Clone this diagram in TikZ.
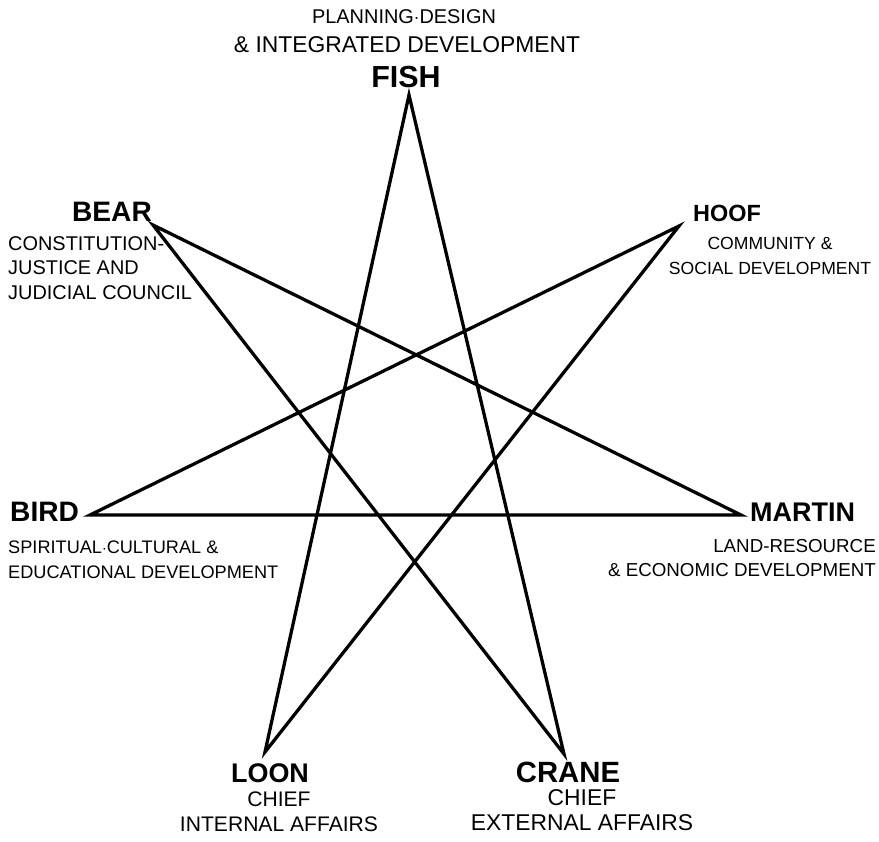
\documentclass[tikz,border=0pt]{standalone}
\usepackage{fontspec}
\setmainfont{Liberation Sans}

\tikzset{
  clan/.style={font=\bfseries\fontsize{#1}{24}\selectfont, inner sep=0pt},
  clan/.default=23,
  duty/.style={font=\fontsize{#1}{21}\selectfont, inner sep=0pt},
  duty/.default=16,
  starline/.style={line width=2.8pt, line join=miter}
}

\begin{document}
\begin{tikzpicture}[x=0.3mm,y=-0.3mm]
\useasboundingbox (0,0) rectangle (879,841);

% Seven points of the star
\coordinate (fish) at (409,95);
\coordinate (hoof) at (679,226);
\coordinate (martin) at (741,515);
\coordinate (crane) at (564,754);
\coordinate (loon) at (265,752);
\coordinate (bird) at (90,515);
\coordinate (bear) at (153,225);

% Star: every point joined to the third one along
\draw[starline] (fish) -- (crane) -- (bear) -- (martin) -- (bird) -- (hoof) -- (loon) -- cycle;

% Fish, top
\node[duty=17] (fishnote) at (404,17) {PLANNING$\cdot$DESIGN};
\node[duty=19.5] (fishnote2) at (407,45) {\& INTEGRATED DEVELOPMENT};
\node[clan=26] (fishname) at (406,77) {FISH};

% Bear, upper left
\node[clan=24] (bearname) at (112,212) {BEAR};
\node[duty=17, align=left, anchor=west] (bearnote) at (8,268) {CONSTITUTION-\\JUSTICE AND\\JUDICIAL COUNCIL};

% Hoof, upper right
\node[clan=20] (hoofname) at (727,213) {HOOF};
\node[duty=15, align=center] (hoofnote) at (770,256) {COMMUNITY \&\\SOCIAL DEVELOPMENT};

% Bird, left
\node[clan=24, anchor=west] (birdname) at (10,512) {BIRD};
\node[duty=15.5, align=left, anchor=west] (birdnote) at (8,560) {SPIRITUAL$\cdot$CULTURAL \&\\EDUCATIONAL DEVELOPMENT};

% Martin, right
\node[clan, anchor=west] (martinname) at (750,512) {MARTIN};
\node[duty=16, align=right, anchor=east] (martinnote) at (876,558) {LAND-RESOURCE\\\& ECONOMIC DEVELOPMENT};

% Loon and Crane, the two chiefs
\node[clan=23] (loonname) at (270,773) {LOON};
\node[duty=18, align=center] (loonnote) at (279,812) {CHIEF\\INTERNAL AFFAIRS};
\node[clan=25] (cranename) at (568,772) {CRANE};
\node[duty=19.5, align=center] (cranenote) at (582,810) {CHIEF\\EXTERNAL AFFAIRS};
\end{tikzpicture}
\end{document}
